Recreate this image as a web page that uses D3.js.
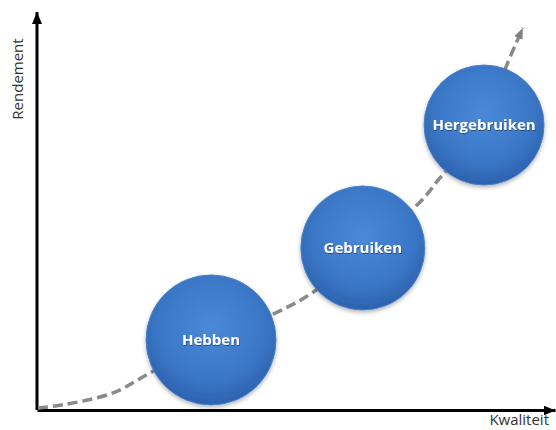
<!DOCTYPE html>
<html>
<head>
<meta charset="utf-8">
<script src="https://cdn.jsdelivr.net/npm/d3@7"></script>
<style>
  body { margin: 0; background: #fff; }
  svg { display: block; font-family: "Open Sans", sans-serif; }
</style>
</head>
<body>
<svg id="chart" width="556" height="430"></svg>
<script>
// Stages (circles) - quality / return in chart units 0..100
const stages = ["Hebben", "Gebruiken", "Hergebruiken"];
const stageQuality = [33.6, 62.9, 86.3];
const stageReturn = [17.6, 40.7, 71.6];

// Dashed growth curve
const curveQuality = [0.2, 5.0, 14.7, 21.4, 33.6, 45.6, 53.3, 62.9, 73.6, 77.8, 86.3, 90.7, 93.8];
const curveReturn = [0.5, 1.3, 4.3, 9.0, 17.3, 24.1, 29.6, 40.7, 51.8, 58.3, 71.6, 86.7, 96.0];

// Axis titles
const xTitle = "Kwaliteit";
const yTitle = "Rendement";

/*****
Layout
*****/
const width = 556, height = 430;
const circleR = [65, 62, 60];

const svg = d3.select("#chart");
const defs = svg.append("defs");

const x = d3.scaleLinear().domain([0, 100]).range([37, 555]);
const y = d3.scaleLinear().domain([0, 100]).range([410, 12]);

// arrow markers
defs.append("marker")
    .attr("id", "axisArrow")
    .attr("viewBox", "0 0 12 10")
    .attr("refX", 12).attr("refY", 5)
    .attr("markerUnits", "userSpaceOnUse")
    .attr("markerWidth", 12).attr("markerHeight", 10)
    .attr("orient", "auto")
  .append("path")
    .attr("d", "M0,0L12,5L0,10Z")
    .attr("fill", "#000");

defs.append("marker")
    .attr("id", "curveArrow")
    .attr("viewBox", "0 0 11 9")
    .attr("refX", 11).attr("refY", 4.5)
    .attr("markerUnits", "userSpaceOnUse")
    .attr("markerWidth", 11).attr("markerHeight", 9)
    .attr("orient", "auto")
  .append("path")
    .attr("d", "M0,0L11,4.5L0,9Z")
    .attr("fill", "#7f7f7f");

// circle gradient + shadow
const grad = defs.append("radialGradient")
    .attr("id", "ball")
    .attr("cx", "50%").attr("cy", "40%").attr("r", "62%");
grad.append("stop").attr("offset", "0%").attr("stop-color", "#4a89d8");
grad.append("stop").attr("offset", "65%").attr("stop-color", "#3b77c7");
grad.append("stop").attr("offset", "100%").attr("stop-color", "#2b60ab");

const shadow = defs.append("filter").attr("id", "shadow")
    .attr("x", "-20%").attr("y", "-20%").attr("width", "140%").attr("height", "140%");
shadow.append("feDropShadow")
    .attr("dx", 0).attr("dy", 2).attr("stdDeviation", 2)
    .attr("flood-color", "#000").attr("flood-opacity", 0.3);

const textShadow = defs.append("filter").attr("id", "tshadow");
textShadow.append("feDropShadow")
    .attr("dx", 0.5).attr("dy", 1).attr("stdDeviation", 0.6)
    .attr("flood-color", "#000").attr("flood-opacity", 0.4);

// axes - no ticks, just the domain line with arrow
const xAxis = svg.append("g")
    .attr("transform", "translate(0," + y(0) + ")")
    .call(d3.axisBottom(x).tickValues([]).tickSizeOuter(0));
xAxis.select(".domain")
    .attr("stroke", "#000").attr("stroke-width", 3)
    .attr("marker-end", "url(#axisArrow)");

const yAxis = svg.append("g")
    .attr("transform", "translate(" + x(0) + ",0)")
    .call(d3.axisLeft(y).tickValues([]).tickSizeOuter(0));
yAxis.select(".domain")
    .attr("stroke", "#000").attr("stroke-width", 3)
    .attr("d", "M0," + y(0) + "V" + y(100))
    .attr("marker-end", "url(#axisArrow)");

// axis titles
svg.append("text")
    .attr("x", 549).attr("y", 425)
    .attr("text-anchor", "end")
    .attr("font-size", 15)
    .attr("fill", "#333")
    .text(xTitle);

svg.append("text")
    .attr("transform", "translate(23,79) rotate(-90)")
    .attr("text-anchor", "middle")
    .attr("font-size", 15)
    .attr("fill", "#333")
    .text(yTitle);

// dashed curve
const line = d3.line()
    .x(d => x(d[0]))
    .y(d => y(d[1]))
    .curve(d3.curveCatmullRom.alpha(0.5));

svg.append("path")
    .datum(d3.zip(curveQuality, curveReturn))
    .attr("d", line)
    .attr("fill", "none")
    .attr("stroke", "#8a8a8a")
    .attr("stroke-width", 3.5)
    .attr("stroke-dasharray", "10,5")
    .attr("marker-end", "url(#curveArrow)");

// stage circles
const nodes = svg.selectAll("g.stage")
    .data(stages)
    .enter().append("g")
    .attr("class", "stage")
    .attr("transform", (d, i) => "translate(" + x(stageQuality[i]) + "," + y(stageReturn[i]) + ")");

nodes.append("circle")
    .attr("r", (d, i) => circleR[i])
    .attr("fill", "url(#ball)")
    .attr("stroke", "#4a80c8")
    .attr("stroke-width", 1)
    .attr("filter", "url(#shadow)");

nodes.append("text")
    .attr("text-anchor", "middle")
    .attr("dy", "0.35em")
    .attr("font-size", 15)
    .attr("font-weight", "bold")
    .attr("fill", "#fff")
    .attr("filter", "url(#tshadow)")
    .text(d => d);
</script>
</body>
</html>
